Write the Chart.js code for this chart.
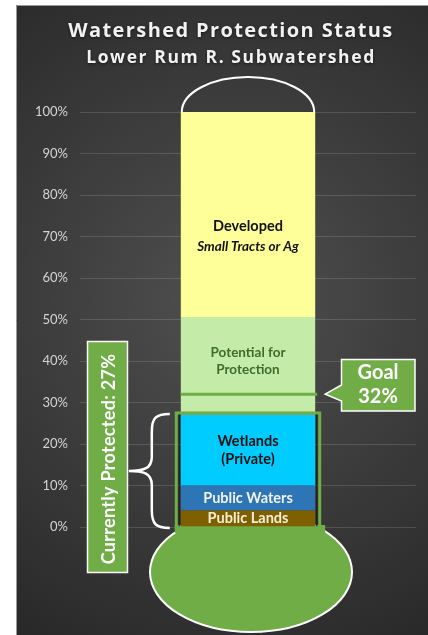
<!DOCTYPE html>
<html>
<head>
<meta charset="utf-8">
<script src="https://cdn.jsdelivr.net/npm/chart.js@4.4.1/dist/chart.umd.min.js"></script>
<style>
  html, body { margin: 0; padding: 0; background: #fff; }
  canvas { display: block; }
</style>
</head>
<body>
<canvas id="thermoChart" width="428" height="635"></canvas>
<script>
// chart values
var categories = ['Lower Rum R. Subwatershed'];
var segmentNames = ['Public Lands', 'Public Waters', 'Wetlands (Private)', 'Potential for Protection', 'Developed'];
var segmentValues = [4, 6, 17, 23.6, 49.4];
var segmentText = [['Public Lands'], ['Public Waters'], ['Wetlands', '(Private)'], ['Potential for', 'Protection'], ['Developed', 'Small Tracts or Ag']];
var goalPercent = 32;
var protectedPercent = 27;
var yMin = 0, yMax = 100, yStep = 10;

var segmentColors = ['#7f6000', '#2e75b6', '#00ccff', '#c4eca8', '#ffff99'];
var green = '#70ad47';

var datasets = segmentNames.map(function(name, i) {
    return {
        label: name,
        data: [segmentValues[i]],
        backgroundColor: segmentColors[i],
        borderWidth: 0,
        barPercentage: 0.4,
        categoryPercentage: 1
    };
});

function barBox(chart) {
    var first = chart.getDatasetMeta(0).data[0];
    var props = first.getProps(['x', 'width'], true);
    return { left: props.x - props.width / 2, right: props.x + props.width / 2, cx: props.x };
}

var thermoPlugin = {
    id: 'thermo',
    beforeDraw: function(chart) {
        var ctx = chart.ctx;
        ctx.save();
        ctx.fillStyle = '#ffffff';
        ctx.fillRect(0, 0, chart.width, chart.height);
        var g = ctx.createRadialGradient(230, 300, 20, 230, 300, 420);
        g.addColorStop(0, '#4e4e4e');
        g.addColorStop(1, '#262626');
        ctx.fillStyle = g;
        ctx.fillRect(16, 5, chart.width - 16, chart.height - 5);
        ctx.strokeStyle = '#9a9a9a';
        ctx.lineWidth = 1;
        ctx.beginPath();
        ctx.moveTo(16.5, chart.height);
        ctx.lineTo(16.5, 5.5);
        ctx.lineTo(chart.width, 5.5);
        ctx.stroke();
        ctx.restore();
    },
    beforeDatasetsDraw: function(chart) {
        var ctx = chart.ctx;
        var y = chart.scales.y;
        var b = barBox(chart);
        var top = y.getPixelForValue(yMax);
        var bottom = y.getPixelForValue(yMin);
        ctx.save();
        // top cap of the thermometer
        ctx.strokeStyle = '#ffffff';
        ctx.lineWidth = 2;
        ctx.beginPath();
        ctx.ellipse(b.cx, top, (b.right - b.left) / 2 - 1, 35, 0, Math.PI, 2 * Math.PI);
        ctx.stroke();
        // bulb
        ctx.beginPath();
        ctx.ellipse(b.cx + 3, bottom + 45, 101, 60, 0, 0, 2 * Math.PI);
        ctx.fillStyle = green;
        ctx.fill();
        ctx.lineWidth = 2;
        ctx.stroke();
        ctx.fillStyle = green;
        ctx.fillRect(b.left - 6, bottom - 2, (b.right - b.left) + 16, 8);
        ctx.restore();
    },
    afterDatasetsDraw: function(chart) {
        var ctx = chart.ctx;
        var y = chart.scales.y;
        var b = barBox(chart);
        var bottom = y.getPixelForValue(yMin);
        var goalY = y.getPixelForValue(goalPercent);
        var protY = y.getPixelForValue(protectedPercent);
        ctx.save();

        // goal line
        ctx.strokeStyle = green;
        ctx.lineWidth = 3;
        ctx.beginPath();
        ctx.moveTo(b.left, goalY);
        ctx.lineTo(b.right + 2, goalY);
        ctx.stroke();

        // frame around the protected part
        ctx.strokeStyle = 'rgba(0,0,0,0.45)';
        ctx.lineWidth = 1.5;
        ctx.strokeRect(b.left - 1.5, protY - 1, b.right - b.left + 3, bottom - protY + 2);
        ctx.strokeStyle = green;
        ctx.lineWidth = 3;
        ctx.strokeRect(b.left - 4.5, protY - 2, b.right - b.left + 9, bottom - protY + 3);

        // segment labels
        var labelAt = [2, 7, 18.4, 40, 70];
        var gaps = [0, 0, 18, 17, 20];
        var colors = ['#f6eed5', '#f2f2f2', '#111111', '#3f6b2d', '#111111'];
        ctx.textAlign = 'center';
        ctx.textBaseline = 'middle';
        segmentText.forEach(function(lines, i) {
            var cy = y.getPixelForValue(labelAt[i]);
            var start = cy - gaps[i] * (lines.length - 1) / 2;
            lines.forEach(function(line, j) {
                var italic = (i === 4 && j === 1) ? 'italic ' : '';
                var size = (i === 4 && j === 1) ? 13.5 : (i === 3 ? 13.5 : 14.5);
                ctx.font = italic + 'bold ' + size + 'px Lato, sans-serif';
                ctx.fillStyle = colors[i];
                ctx.fillText(line, b.cx, start + j * gaps[i]);
            });
        });

        // brace
        var bTop = protY - 1, bBot = bottom + 1, bMid = (bTop + bBot) / 2;
        ctx.strokeStyle = '#ffffff';
        ctx.lineWidth = 2.5;
        ctx.beginPath();
        ctx.moveTo(b.left - 11, bTop);
        ctx.bezierCurveTo(b.left - 25, bTop, b.left - 29, bTop + 4, b.left - 29, bTop + 18);
        ctx.lineTo(b.left - 29, bMid - 14);
        ctx.bezierCurveTo(b.left - 29, bMid - 2, b.left - 38, bMid, b.left - 52, bMid);
        ctx.bezierCurveTo(b.left - 38, bMid, b.left - 29, bMid + 2, b.left - 29, bMid + 14);
        ctx.lineTo(b.left - 29, bBot - 18);
        ctx.bezierCurveTo(b.left - 29, bBot - 4, b.left - 25, bBot, b.left - 11, bBot);
        ctx.stroke();

        // currently protected box
        ctx.fillStyle = green;
        ctx.fillRect(87, 341, 41, 232);
        ctx.strokeStyle = '#ffffff';
        ctx.lineWidth = 1.5;
        ctx.strokeRect(87.5, 341.5, 40, 231);
        ctx.save();
        ctx.translate(108, 459);
        ctx.rotate(-Math.PI / 2);
        ctx.fillStyle = '#ffffff';
        ctx.font = 'bold 18px Lato, sans-serif';
        ctx.letterSpacing = '0.3px';
        ctx.fillText('Currently Protected: ' + protectedPercent + '%', 0, 1);
        ctx.restore();

        // goal callout
        ctx.beginPath();
        ctx.moveTo(341.5, 359.5);
        ctx.lineTo(415, 359.5);
        ctx.lineTo(415, 411);
        ctx.lineTo(341.5, 411);
        ctx.lineTo(341.5, 401);
        ctx.lineTo(b.right + 10, goalY);
        ctx.lineTo(341.5, 385);
        ctx.closePath();
        ctx.fillStyle = green;
        ctx.fill();
        ctx.strokeStyle = '#ffffff';
        ctx.lineWidth = 1.5;
        ctx.stroke();
        ctx.fillStyle = '#ffffff';
        ctx.font = 'bold 20px Lato, sans-serif';
        ctx.fillText('Goal', 378, 373);
        ctx.fillText(goalPercent + '%', 378, 397);
        ctx.restore();
    },
    afterDraw: function(chart) {
        var ctx = chart.ctx;
        ctx.save();
        ctx.textAlign = 'center';
        ctx.textBaseline = 'alphabetic';
        ctx.fillStyle = '#f2f2f2';
        ctx.shadowColor = 'rgba(0,0,0,0.6)';
        ctx.shadowBlur = 3;
        ctx.shadowOffsetY = 1;
        ctx.letterSpacing = '1.4px';
        ctx.font = 'bold 20px "Open Sans", sans-serif';
        ctx.fillText('Watershed Protection Status', 231, 37);
        ctx.letterSpacing = '1.6px';
        ctx.font = 'bold 17.5px "Open Sans", sans-serif';
        ctx.fillText(categories[0], 231, 63);
        ctx.restore();
    }
};

var ctxEl = document.getElementById('thermoChart').getContext('2d');
new Chart(ctxEl, {
    type: 'bar',
    data: {
        labels: categories,
        datasets: datasets
    },
    options: {
        responsive: false,
        animation: false,
        devicePixelRatio: 1,
        layout: { padding: { top: 112, bottom: 108, left: 16, right: 12 } },
        plugins: {
            legend: { display: false },
            tooltip: { enabled: false }
        },
        scales: {
            x: { stacked: true, display: false },
            y: {
                stacked: true,
                min: yMin,
                max: yMax,
                afterFit: function(scale) { scale.width = 64; },
                ticks: {
                    stepSize: yStep,
                    padding: 12,
                    color: '#d4d4d4',
                    font: { size: 13, family: 'Lato, sans-serif' },
                    callback: function(v) { return v + '%'; }
                },
                grid: { color: 'rgba(255,255,255,0.14)', drawTicks: false },
                border: { display: false }
            }
        }
    },
    plugins: [thermoPlugin]
});
</script>
</body>
</html>
